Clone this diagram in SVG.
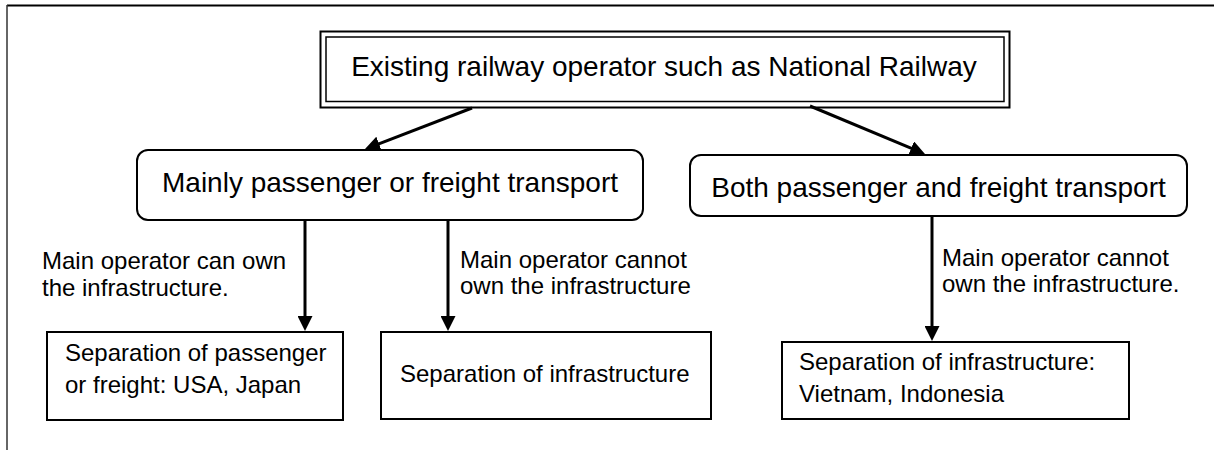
<svg xmlns="http://www.w3.org/2000/svg" width="1214" height="450" viewBox="0 0 1214 450">
  <style>
    .big { font-family: "Liberation Sans", Arial, sans-serif; font-size: 28px; fill: #000; }
    .small { font-family: "Liberation Sans", Arial, sans-serif; font-size: 24px; fill: #000; }
    .box { fill: #fff; stroke: #000; stroke-width: 2; }
    .conn { fill: none; stroke: #000; stroke-width: 3; marker-end: url(#head); }
  </style>
  <defs>
    <marker id="head" markerUnits="userSpaceOnUse" markerWidth="15" markerHeight="15" refX="3" refY="7.5" orient="auto">
      <path d="M0,0 L15,7.5 L0,15 z" fill="#000"/>
    </marker>
  </defs>

  <rect width="1214" height="450" fill="#fff"/>

  <!-- outer frame: top and left edges only -->
  <g id="frame">
    <line x1="7" y1="5.5" x2="1214" y2="5.5" stroke="#000" stroke-width="2"/>
    <line x1="7" y1="5" x2="7" y2="450" stroke="#333" stroke-width="1.5"/>
  </g>

  <!-- root node with double border -->
  <g id="existing-operator">
    <rect class="box" x="320.5" y="31.5" width="689" height="76"/>
    <rect x="326" y="37" width="678" height="64.5" fill="none" stroke="#000" stroke-width="1.5"/>
    <text class="big" x="664" y="76" text-anchor="middle">Existing railway operator such as National Railway</text>
  </g>

  <g id="mainly-one">
    <rect class="box" x="137" y="150" width="506" height="70" rx="11"/>
    <text class="big" x="390" y="192" text-anchor="middle">Mainly passenger or freight transport</text>
  </g>

  <g id="both">
    <rect class="box" x="690" y="155" width="497" height="61" rx="11"/>
    <text class="big" x="938.5" y="197" text-anchor="middle">Both passenger and freight transport</text>
  </g>

  <g id="sep-passenger-freight">
    <rect class="box" x="47" y="332" width="296" height="88"/>
    <text class="small" x="65" y="361">Separation of passenger</text>
    <text class="small" x="65" y="393">or freight: USA, Japan</text>
  </g>

  <g id="sep-infra">
    <rect class="box" x="381" y="332" width="330" height="87"/>
    <text class="small" x="400" y="382">Separation of infrastructure</text>
  </g>

  <g id="sep-infra-countries">
    <rect class="box" x="782" y="342" width="347" height="77"/>
    <text class="small" x="799" y="370">Separation of infrastructure:</text>
    <text class="small" x="799" y="402">Vietnam, Indonesia</text>
  </g>

  <!-- connectors and their labels -->
  <g id="connectors">
    <line class="conn" x1="472" y1="108" x2="376.2" y2="144.8"/>
    <line class="conn" x1="810" y1="106" x2="913.9" y2="149.4"/>
    <line class="conn" x1="305" y1="220" x2="305" y2="319"/>
    <line class="conn" x1="448" y1="220" x2="448" y2="319"/>
    <line class="conn" x1="932" y1="216" x2="932" y2="329"/>

    <text class="small" x="42" y="269">Main operator can own</text>
    <text class="small" x="42" y="296">the infrastructure.</text>
    <text class="small" x="460" y="268">Main operator cannot</text>
    <text class="small" x="460" y="294">own the infrastructure</text>
    <text class="small" x="942" y="266">Main operator cannot</text>
    <text class="small" x="942" y="292">own the infrastructure.</text>
  </g>
</svg>
